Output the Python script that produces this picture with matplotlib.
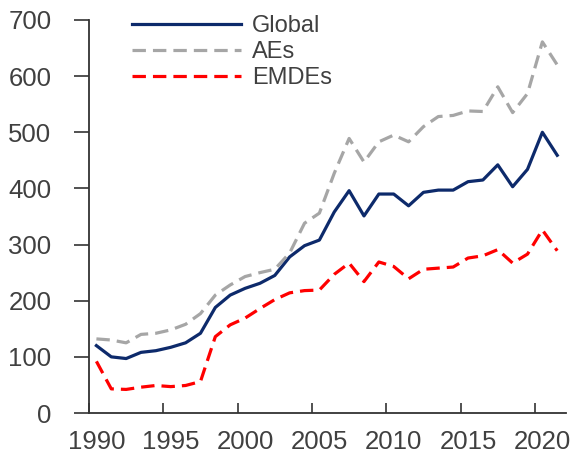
import numpy as np
import matplotlib.pyplot as plt

plt.rcParams["font.family"] = ["Liberation Sans", "DejaVu Sans"]

# ---------- Data ----------
years = list(range(1990, 2022))

global_vals = [120, 100, 97, 108, 111, 117, 125, 142, 188, 210, 222, 231, 245,
               278, 298, 308, 358, 396, 351, 390, 390, 369, 393, 397, 397, 412,
               415, 442, 403, 434, 500, 459]
aes_vals = [132, 130, 125, 140, 142, 148, 158, 177, 210, 228, 243, 250, 256,
            285, 338, 356, 427, 489, 447, 483, 495, 483, 510, 528, 530, 538,
            537, 581, 535, 569, 661, 620]
emdes_vals = [92, 43, 42, 46, 49, 47, 49, 56, 136, 157, 169, 186, 202, 214,
              218, 219, 247, 267, 234, 269, 261, 239, 256, 258, 260, 276, 280,
              291, 267, 283, 326, 289]

yticks = [0, 100, 200, 300, 400, 500, 600, 700]
xlabels = [1990, 1995, 2000, 2005, 2010, 2015, 2020]

# ---------- Figure ----------
fig = plt.figure(figsize=(5.77, 4.54), dpi=100)
ax = fig.add_axes([0.1542, 0.0903, 0.827, 0.8657])

txt = "#404040"
ax.plot(years, global_vals, color="#0D2A6B", lw=2.3, label="Global")
ax.plot(years, aes_vals, color="#A6A6A6", lw=2.3, dashes=(4.2, 2.2), label="AEs")
ax.plot(years, emdes_vals, color="#FF0000", lw=2.3, dashes=(4.2, 2.2), label="EMDEs")

ax.set_xlim(1989.5, 2021.6)
ax.set_ylim(0, 700)
ax.set_yticks(yticks)

# category-style axis: tick marks between years, labels on the years
ax.set_xticks(xlabels)
ax.tick_params(axis="x", length=0, pad=12, labelsize=18.5, labelcolor=txt)
ax.set_xticks([x - 0.5 for x in xlabels], minor=True)
ax.tick_params(axis="x", which="minor", direction="in", length=7, width=1.2,
               color="#333333")
ax.tick_params(axis="y", direction="out", length=11, width=1.2, pad=16,
               labelsize=18.5, labelcolor=txt, color="#333333")

for s in ["top", "right"]:
    ax.spines[s].set_visible(False)
for s in ["left", "bottom"]:
    ax.spines[s].set_linewidth(1.3)
    ax.spines[s].set_color("#333333")

leg = ax.legend(loc="upper left", bbox_to_anchor=(0.09, 1.012), frameon=False,
                fontsize=17, handlelength=4.6, handletextpad=0.5,
                labelspacing=0.17, borderpad=0, borderaxespad=0)
for t in leg.get_texts():
    t.set_color(txt)

fig.savefig("out.png", dpi=100)
